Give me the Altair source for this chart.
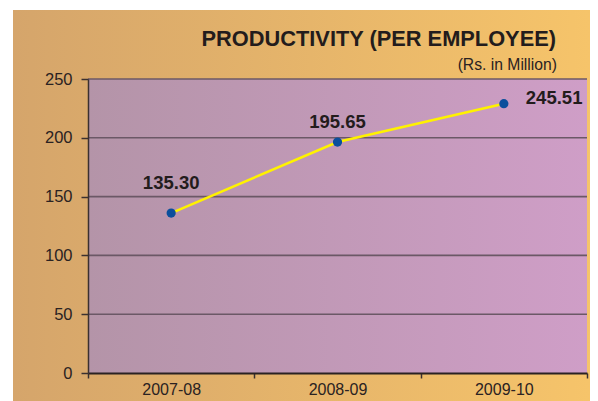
import altair as alt
import pandas as pd

years = ["2007-08", "2008-09", "2009-10"]
plotted = [136.0, 196.4, 229.0]
labels = ["135.30", "195.65", "245.51"]
y_ticks = [50, 100, 150, 200, 250]
title_text = "PRODUCTIVITY (PER EMPLOYEE)"
subtitle_text = "(Rs. in Million)"

df = pd.DataFrame({"year": years, "value": plotted, "label": labels, "idx": [0, 1, 2]})
grid_df = pd.DataFrame({"t": y_ticks})
one = pd.DataFrame({"a": [0]})

W, H = 499, 294
FONT = "Liberation Sans"

xs = alt.X("year:N", sort=years, title=None,
           scale=alt.Scale(paddingInner=0, paddingOuter=0),
           axis=alt.Axis(labelAngle=0, labelFont=FONT, labelFontSize=16, labelColor="#2a2222",
                         tickBand="extent", tickSize=5, tickColor="#3a3030", tickWidth=1.5,
                         domainColor="#2a2222", domainWidth=2, labelPadding=3, zindex=1, grid=False))
ys = alt.Y("value:Q", title=None,
           scale=alt.Scale(domain=[0, 250], nice=False),
           axis=alt.Axis(values=[0, 50, 100, 150, 200, 250], labelFont=FONT, labelFontSize=16.5,
                         labelColor="#2a2222", tickSize=7, tickColor="#3a3030", tickWidth=1.5,
                         domainColor="#3a3030", domainWidth=1.5, labelPadding=9, zindex=1, grid=False))

outer_bg = alt.Chart(one).mark_rect(
    fill=alt.Gradient(gradient="linear", x1=0, x2=1, y1=0, y2=0,
                      stops=[alt.GradientStop(color="#d5a56b", offset=0),
                             alt.GradientStop(color="#f6c46a", offset=1)])
).encode(x=alt.value(-75), x2=alt.value(W + 3), y=alt.value(-69), y2=alt.value(H + 28))

plot_bg = alt.Chart(one).mark_rect(
    fill=alt.Gradient(gradient="linear", x1=0, x2=1, y1=0, y2=0,
                      stops=[alt.GradientStop(color="#b494a8", offset=0),
                             alt.GradientStop(color="#cf9ec7", offset=1)])
).encode(x=alt.value(0), x2=alt.value(W), y=alt.value(0), y2=alt.value(H))

title = alt.Chart(one).mark_text(
    text=title_text, font=FONT, fontSize=21.8, fontWeight="bold", color="#231c1c",
    align="right", baseline="middle").encode(x=alt.value(468), y=alt.value(-40))
subtitle = alt.Chart(one).mark_text(
    text=subtitle_text, font=FONT, fontSize=15.7, color="#2a2222",
    align="right", baseline="middle").encode(x=alt.value(469), y=alt.value(-14))

grid = alt.Chart(grid_df).mark_rule(color="#6b5866", strokeWidth=1.6).encode(
    y=alt.Y("t:Q", scale=alt.Scale(domain=[0, 250], nice=False)),
    x=alt.value(0), x2=alt.value(W))

base = alt.Chart(df)
line = base.mark_line(color="#fff200", strokeWidth=2.5).encode(x=xs, y=ys)
pts = base.mark_circle(color="#0b4f9c", opacity=1, size=85).encode(x=xs, y=ys)

def lab(i, dx, dy, align):
    return base.transform_filter(alt.datum.idx == i).mark_text(
        font=FONT, fontSize=18.5, fontWeight="bold", color="#231c1c",
        dx=dx, dy=dy, align=align, baseline="middle").encode(x=xs, y=ys, text="label:N")

chart = alt.layer(
    outer_bg, plot_bg, title, subtitle, grid, line, pts,
    lab(0, 0, -30, "center"), lab(1, 0, -20, "center"), lab(2, 22, -6, "left"),
).properties(
    width=W, height=H,
    autosize=alt.AutoSizeParams(type="none"),
    padding={"left": 80, "top": 71, "right": 3, "bottom": 28},
    background="white",
).configure_view(stroke=None)

chart.save("out.html", embed_options={"renderer": "svg", "actions": False})
